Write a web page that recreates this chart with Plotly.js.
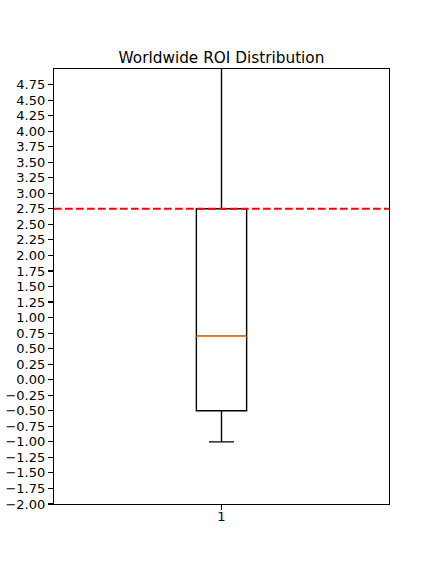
<!DOCTYPE html>
<html>
<head>
<meta charset="utf-8">
<script src="https://cdn.plot.ly/plotly-3.0.1.min.js"></script>
<style>html,body{margin:0;padding:0;background:#fff;} #chart{width:432px;height:576px;}</style>
</head>
<body>
<div id="chart"></div>
<script>
// Data
var categories = [1];
var q1Vals = [-0.5];
var medianVals = [0.7];
var q3Vals = [2.75];
var lowerFenceVals = [-1.0];
var upperFenceVals = [7.6];
var thresholdVal = 2.75;
var yTickVals = [-2.0,-1.75,-1.5,-1.25,-1.0,-0.75,-0.5,-0.25,0.0,0.25,0.5,0.75,1.0,1.25,1.5,1.75,2.0,2.25,2.5,2.75,3.0,3.25,3.5,3.75,4.0,4.25,4.5,4.75];
var yTickText = yTickVals.map(function(v){ var s = Math.abs(v).toFixed(2); return (v < 0 ? '\u2212' : '') + s; });
var xTickText = ['1'];

var boxWidth = 0.15;

var trace = {
  type: 'box',
  x: categories,
  q1: q1Vals,
  median: medianVals,
  q3: q3Vals,
  lowerfence: lowerFenceVals,
  upperfence: upperFenceVals,
  width: boxWidth,
  whiskerwidth: 0.5,
  fillcolor: 'rgba(0,0,0,0)',
  line: {color: '#000000', width: 1.4},
  boxpoints: false,
  hoverinfo: 'skip',
  showlegend: false
};

var shapes = [];
categories.forEach(function(c, i){
  shapes.push({
    type: 'line', xref: 'x', yref: 'y',
    x0: c - boxWidth/2, x1: c + boxWidth/2,
    y0: medianVals[i], y1: medianVals[i],
    line: {color: '#ff7f0e', width: 1.4},
    layer: 'above'
  });
});
shapes.push({
  type: 'line', xref: 'paper', yref: 'y',
  x0: 0, x1: 1, y0: thresholdVal, y1: thresholdVal,
  line: {color: '#ff0000', width: 2.1, dash: '7.7px,3.3px'},
  layer: 'above'
});

var font = {family: 'DejaVu Sans', size: 13, color: '#000000'};

var layout = {
  width: 432, height: 576,
  margin: {l: 54, r: 43, t: 69, b: 72, pad: 0},
  paper_bgcolor: '#ffffff',
  plot_bgcolor: '#ffffff',
  font: font,
  title: {
    text: 'Worldwide ROI Distribution',
    font: {family: 'DejaVu Sans', size: 15.3, color: '#000000'},
    x: (54 + 389) / 2 / 432, xanchor: 'center',
    xref: 'container',
    y: 1 - 57.5 / 576, yanchor: 'middle', yref: 'container'
  },
  xaxis: {
    range: [0.5, 1.5],
    tickmode: 'array', tickvals: categories, ticktext: xTickText,
    ticks: 'outside', ticklen: 5, tickwidth: 1.1, tickcolor: '#000',
    ticklabelstandoff: -5,
    showgrid: false, zeroline: false,
    showline: true, linecolor: '#000', linewidth: 1.1, mirror: true,
    tickfont: font, fixedrange: true
  },
  yaxis: {
    range: [-2.0, 5.0],
    tickmode: 'array', tickvals: yTickVals, ticktext: yTickText,
    ticks: 'outside', ticklen: 5, tickwidth: 1.1, tickcolor: '#000',
    showgrid: false, zeroline: false,
    showline: true, linecolor: '#000', linewidth: 1.1, mirror: true,
    tickfont: font, fixedrange: true
  },
  shapes: shapes,
  showlegend: false
};

Plotly.newPlot('chart', [trace], layout, {displayModeBar: false, staticPlot: true});
</script>
</body>
</html>
